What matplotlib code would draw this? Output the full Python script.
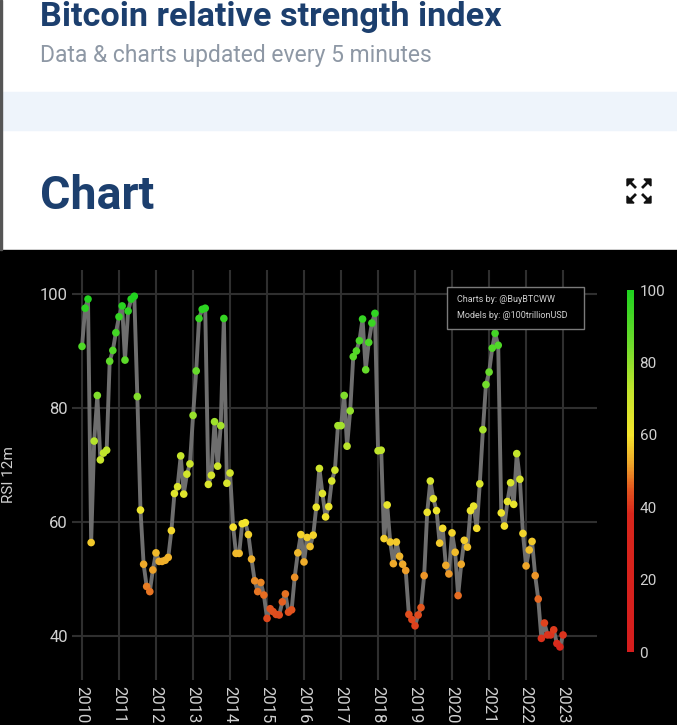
import pandas as pd
import matplotlib
matplotlib.use('Agg')
import matplotlib.pyplot as plt
from matplotlib.colors import LinearSegmentedColormap
from matplotlib.patches import Rectangle, Polygon
from matplotlib.lines import Line2D

# monthly RSI (12m), Jan 2010 .. Jan 2023
rsi = [90.8, 97.5, 99.1, 56.4, 74.2, 82.2, 70.9, 72.1, 72.6, 88.2, 90.1, 93.2,
       96.0, 97.9, 88.4, 97.0, 99.1, 99.6, 82.0, 62.1, 52.6, 48.7, 47.8, 51.6,
       54.6, 53.1, 53.1, 53.3, 53.8, 58.5, 65.0, 66.2, 71.6, 64.9, 68.4, 70.2,
       78.7, 86.5, 95.7, 97.3, 97.5, 66.6, 68.2, 77.6, 69.8, 76.9, 95.7, 66.8,
       68.6, 59.1, 54.5, 54.5, 59.7, 59.9, 57.8, 53.5, 49.7, 47.8, 49.4, 47.2,
       43.1, 44.8, 44.3, 43.8, 43.7, 46.0, 47.4, 44.2, 44.6, 50.3, 54.6, 57.8,
       53.0, 57.3, 55.7, 57.7, 62.6, 69.4, 65.0, 60.9, 62.7, 67.2, 69.1, 76.9,
       76.9, 82.2, 73.3, 79.5, 89.0, 90.0, 91.8, 95.6, 86.7, 91.5, 94.9, 96.6,
       72.5, 72.6, 57.1, 63.0, 56.5, 52.7, 56.5, 54.0, 52.6, 51.5, 43.8, 42.9,
       41.8, 43.7, 45.0, 50.6, 61.7, 67.2, 64.1, 62.0, 56.3, 58.9, 52.4, 50.9,
       58.1, 54.7, 47.1, 52.6, 56.8, 55.6, 62.0, 62.8, 58.9, 66.7, 76.2, 84.1,
       86.3, 90.5, 93.1, 91.0, 61.6, 59.3, 63.6, 66.9, 63.1, 72.0, 67.5, 58.0,
       52.3, 55.1, 56.6, 50.6, 46.5, 39.6, 42.3, 40.2, 40.2, 41.1, 38.7, 38.1,
       40.2]
dates = pd.date_range('2010-01-01', periods=len(rsi), freq='MS')
years = list(range(2010, 2024))
y_ticks = [40, 60, 80, 100]
cbar_ticks = [0, 20, 40, 60, 80, 100]

W, H = 677, 725
plt.rcParams['font.family'] = ['Roboto', 'DejaVu Sans']

fig = plt.figure(figsize=(W / 100, H / 100), dpi=100)
fig.patch.set_facecolor('white')


def fx(px):
    return px / W


def fy(py):
    return 1 - py / H


# page background pieces
fig.add_artist(Rectangle((fx(2), fy(130)), 1, 38 / H, transform=fig.transFigure,
                         color='#eef4fb', zorder=-5))
fig.add_artist(Rectangle((0, 0), 1, fy(250), transform=fig.transFigure,
                         color='black', zorder=-5))
fig.add_artist(Rectangle((0, fy(250)), 2 / W, 250 / H, transform=fig.transFigure,
                         color='#555555', zorder=-5))

navy = '#1c3f6e'
fig.text(fx(40), fy(26), 'Bitcoin relative strength index', fontsize=24.7,
         fontweight='bold', color=navy, va='baseline')
fig.text(fx(40), fy(62), 'Data & charts updated every 5 minutes', fontsize=16.5,
         color='#8e98a5', va='baseline')
fig.text(fx(40), fy(209), 'Chart', fontsize=33.5, fontweight='bold', color=navy,
         va='baseline')

# expand icon
cx, cy = 639, 191
for sx, sy in [(-1, -1), (1, -1), (-1, 1), (1, 1)]:
    c = (cx + sx * 12, cy + sy * 12)
    tri = [(fx(c[0]), fy(c[1])), (fx(c[0] - sx * 7), fy(c[1])), (fx(c[0]), fy(c[1] - sy * 7))]
    fig.add_artist(Polygon(tri, closed=True, transform=fig.transFigure, color='#111111'))
    fig.add_artist(Line2D([fx(c[0] - sx * 3), fx(cx + sx * 4)], [fy(c[1] - sy * 3), fy(cy + sy * 4)],
                          transform=fig.transFigure, color='#111111', lw=2))

cmap = LinearSegmentedColormap.from_list('rsi', [
    (0.0, '#d51d1d'), (0.38, '#d8261c'), (0.45, '#e2551e'), (0.52, '#eea52a'),
    (0.60, '#f5e52c'), (0.72, '#c4e52c'), (0.85, '#6fdc2c'), (1.0, '#1fd21f')])

ax = fig.add_axes([fx(72), fy(680), (597 - 72) / W, (680 - 270) / H])
ax.set_facecolor('black')
ax.plot(dates, rsi, color='#6e6e6e', lw=2.8, zorder=2)
sc = ax.scatter(dates, rsi, c=rsi, cmap=cmap, vmin=0, vmax=100, s=30,
                edgecolors='none', zorder=3)
ax.set_ylim(32.3, 104.2)
ax.set_xlim(pd.Timestamp('2009-09-24'), pd.Timestamp('2023-12-02'))
ax.set_xticks([pd.Timestamp(f'{y}-01-01') for y in years])
ax.set_xticklabels([str(y) for y in years], rotation=-90, va='top', ha='center')
ax.set_yticks(y_ticks)
ax.grid(color='#2f2f2f', lw=1.5)
ax.set_axisbelow(True)
for s in ax.spines.values():
    s.set_visible(False)
ax.tick_params(axis='both', length=0, colors='#d0d0d0', labelsize=12)
ax.tick_params(axis='x', pad=4.5)
ax.tick_params(axis='y', pad=3)
ax.set_ylabel('RSI 12m', color='#d0d0d0', fontsize=11)
ax.yaxis.set_label_coords((16 - 72) / 525, 0.5)

# credits box
fig.add_artist(Rectangle((fx(447), fy(329)), 137 / W, 42 / H, transform=fig.transFigure,
                         facecolor='black', edgecolor='#7a7a7a', lw=1, zorder=5))
fig.text(fx(457), fy(300), 'Charts by: @BuyBTCWW', fontsize=6.5, color='#d0d0d0',
         va='center', zorder=6)
fig.text(fx(457), fy(315), 'Models by: @100trillionUSD', fontsize=6.5, color='#d0d0d0',
         va='center', zorder=6)

cax = fig.add_axes([fx(627), fy(652), 7 / W, (652 - 290) / H])
cb = fig.colorbar(sc, cax=cax, ticks=cbar_ticks)
cb.outline.set_visible(False)
cax.tick_params(length=0, colors='#d0d0d0', labelsize=11, pad=4)

fig.savefig('out.png', dpi=100, facecolor=fig.get_facecolor())
